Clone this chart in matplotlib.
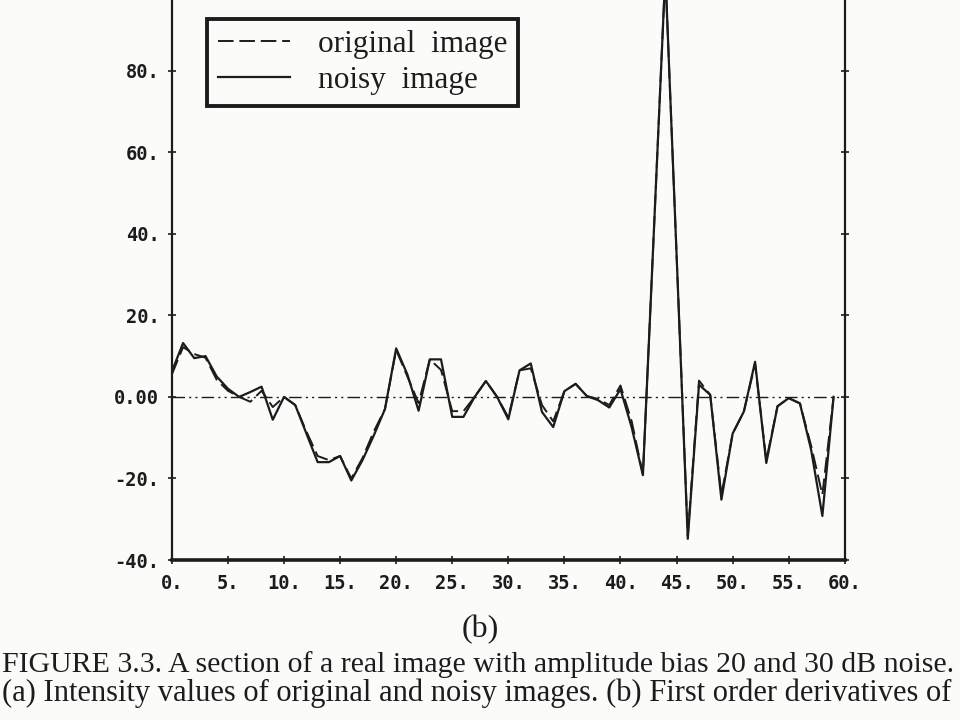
import numpy as np
import matplotlib.pyplot as plt

# esantioane (x) si derivata de ordinul intai
x = np.arange(60)
noisy = [6.2, 13.2, 9.5, 10.0, 5.0, 2.0, 0.0, 1.2, 2.5, -5.6,
         0.0, -2.0, -9.0, -16.0, -16.0, -14.5, -20.5, -15.5, -9.5, -3.0,
         11.9, 5.5, -3.4, 9.2, 9.2, -4.9, -4.9, 0.0, 3.9, 0.0,
         -5.5, 6.5, 8.2, -3.7, -7.4, 1.4, 3.2, 0.2, -0.8, -2.6,
         1.9, -7.5, -19.2, 42.0, 104.0, 35.0, -34.8, 3.0, 0.5, -25.2,
         -9.0, -3.6, 8.6, -16.2, -2.3, -0.3, -1.6, -13.0, -29.2, 0.0]
original = [5.5, 12.2, 10.5, 9.6, 4.2, 1.5, 0.0, -1.2, 1.5, -2.5,
            0.0, -2.0, -8.5, -14.5, -15.5, -14.5, -20.0, -15.0, -8.5, -3.0,
            11.5, 5.0, -1.5, 9.2, 6.6, -3.5, -3.5, 0.0, 3.9, 0.0,
            -5.0, 6.5, 7.0, -2.0, -6.0, 1.4, 3.2, 0.2, -0.5, -2.0,
            2.8, -6.0, -19.0, 42.0, 104.0, 35.0, -34.0, 4.0, 0.5, -24.0,
            -9.0, -3.6, 8.0, -15.5, -2.3, -0.3, -1.6, -12.0, -24.0, 0.0]

xticks = [0, 5, 10, 15, 20, 25, 30, 35, 40, 45, 50, 55, 60]
xlabels = ['0.', '5.', '10.', '15.', '20.', '25.', '30.', '35.', '40.', '45.', '50.', '55.', '60.']
yticks = [-40, -20, 0, 20, 40, 60, 80]
ylabels = ['-40.', '-20.', '0.00', '20.', '40.', '60.', '80.']

ink = '#1c1c1c'
paper = '#fbfbfa'

fig = plt.figure(figsize=(9.6, 7.2), dpi=100, facecolor=paper)
ax = fig.add_axes([0.179, 0.2222, 0.701, 0.793])
ax.set_facecolor(paper)

ax.axhline(0, color=ink, lw=1.0, dashes=(9, 3, 1.5, 3, 1.5, 3))
ax.plot(x, original, color=ink, lw=1.4, dashes=(8, 3), label='original  image')
ax.plot(x, noisy, color=ink, lw=1.6, label='noisy  image')

ax.set_xlim(0, 60)
ax.set_ylim(-40, 100)
ax.set_xticks(xticks)
ax.set_xticklabels(xlabels)
ax.set_yticks(yticks)
ax.set_yticklabels(ylabels)
for lab in ax.get_xticklabels() + ax.get_yticklabels():
    lab.set_family('DejaVu Sans Mono')
    lab.set_fontweight('bold')
    lab.set_fontsize(13.5)
    lab.set_color(ink)
ax.tick_params(direction='inout', length=6, width=1.2, color=ink, pad=6,
               right=True)
ax.tick_params(axis='x', pad=7)

for s in ['left', 'right']:
    ax.spines[s].set_linewidth(1.6)
    ax.spines[s].set_color(ink)
ax.spines['bottom'].set_linewidth(2.6)
ax.spines['bottom'].set_color(ink)
ax.spines['top'].set_visible(False)

leg = ax.legend(loc='upper left', bbox_to_anchor=(207 / 960, 1 - 19 / 720),
                bbox_transform=fig.transFigure, fancybox=False,
                framealpha=1, edgecolor=ink, facecolor=paper,
                prop={'family': 'Liberation Serif', 'size': 22.5},
                handlelength=2.3, handletextpad=0.9, borderpad=0.35,
                labelspacing=0.22, borderaxespad=0)
leg.get_frame().set_linewidth(2.8)
for t in leg.get_texts():
    t.set_color(ink)

fig.text(0.5, 1 - 630 / 720, '(b)', ha='center', va='center',
         family='Liberation Serif', fontsize=23, color=ink)
fig.text(0.002, 1 - 665 / 720,
         'FIGURE 3.3. A section of a real image with amplitude bias 20 and 30 dB noise.',
         ha='left', va='center', family='Liberation Serif', fontsize=21.5, color=ink)
fig.text(0.002, 1 - 693 / 720,
         '(a) Intensity values of original and noisy images. (b) First order derivatives of',
         ha='left', va='center', family='Liberation Serif', fontsize=22, color=ink)

plt.savefig('out.png', dpi=100, facecolor=paper)
